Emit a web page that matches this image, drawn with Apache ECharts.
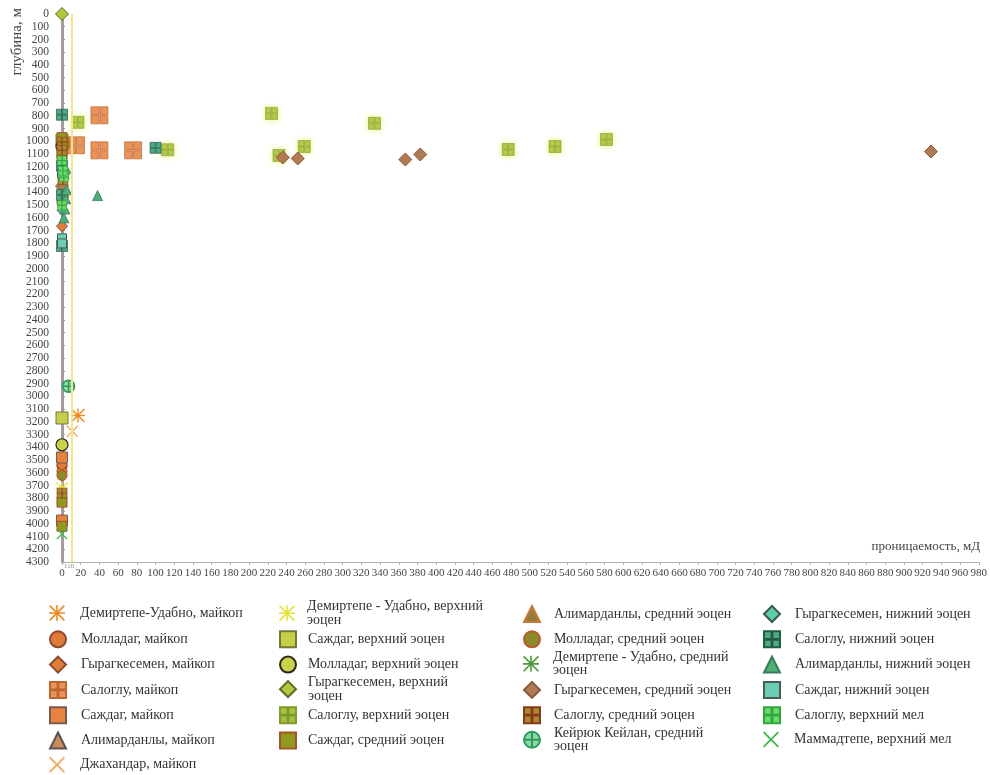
<!DOCTYPE html>
<html>
<head>
<meta charset="utf-8">
<script src="https://cdn.jsdelivr.net/npm/echarts@6/dist/echarts.min.js"></script>
<style>
  html, body { margin: 0; padding: 0; background: #fff; }
  #chart { width: 990px; height: 775px; }
</style>
</head>
<body>
<div id="chart"></div>
<script>
// Permeability (mD) vs depth (m) by field and stratigraphic unit
const xTickStep = 20;
const yTickStep = 100;
const xMax = 980;
const yMax = 4300;
const cutoffPermeability = 10;

// [permeability, depth]
const demirtepeMaikop = [[17, 3150]];
const molladagMaikop = [[0, 3510], [0, 3550], [0, 3590]];
const gyragkesemenMaikop = [[0, 1665], [0, 3540]];
const salogluMaikop = [[40, 795], [15, 1030], [40, 1070], [76, 1070]];
const sazhdagMaikop = [[0, 3480], [0, 3975]];
const alimardanlyMaikop = [[0, 3800]];
const dzhakhandarMaikop = [[11, 3275]];
const demirtepeUpperEocene = [[0, 3720]];
const sazhdagUpperEocene = [[0, 3170], [0, 990]];
const molladagUpperEocene = [[0, 3380], [0, 1040]];
const gyragkesemenUpperEocene = [[0, 0]];
const salogluUpperEocene = [[17, 850], [113, 1065], [224, 780], [232, 1110], [259, 1040], [334, 858], [477, 1063], [527, 1040], [582, 985]];
const sazhdagMiddleEocene = [[0, 4020], [0, 3830], [0, 1100], [2, 1015], [0, 970]];
const alimardanlyMiddleEocene = [[0, 1330], [2, 1400]];
const molladagMiddleEocene = [[0, 3620], [0, 1120], [0, 1480]];
const demirtepeMiddleEocene = [[0, 1180], [3, 1260]];
const gyragkesemenMiddleEocene = [[236, 1126], [252, 1134], [367, 1142], [383, 1102], [929, 1079], [0, 1350]];
const salogluMiddleEocene = [[0, 3760], [0, 1005], [1, 1300], [0, 1070]];
const keiriukMiddleEocene = [[7, 2920]];
const gyragkesemenLowerEocene = [[0, 1540]];
const salogluLowerEocene = [[0, 790], [100, 1050], [0, 1190], [0, 1420], [0, 1820]];
const alimardanlyLowerEocene = [[38, 1425], [4, 1210], [4, 1450], [3, 1530], [5, 1380], [2, 1600]];
const sazhdagLowerEocene = [[0, 1250], [0, 1760], [0, 1800]];
const salogluUpperCretaceous = [[0, 1150], [2, 1280], [0, 1500], [1, 1230]];
const mammadtepeUpperCretaceous = [[0, 4080]];

// Marker shapes
const SYM = {
  star: 'path://M9,0H11V20H9Z M0,1.5L1.5,0L20,18.5L18.5,20Z M18.5,0L20,1.5L1.5,20L0,18.5Z M0,9H20V11H0Z',
  cross: 'path://M0,1.6L1.6,0L20,18.4L18.4,20Z M18.4,0L20,1.6L1.6,20L0,18.4Z',
  quad: 'path://M0,0H9.5V9.5H0Z M10.5,0H20V9.5H10.5Z M0,10.5H9.5V20H0Z M10.5,10.5H20V20H10.5Z',
  ringPlus: 'path://M10,0A10,10,0,1,1,9.99,0Z M10,1V19 M1,10H19'
};

const SERIF = '"Liberation Serif", "DejaVu Serif", serif';

// name, data, symbol, size, fill, border, borderWidth, glow
const seriesDefs = [
  ['Демиртепе-Удабно, майкоп', demirtepeMaikop, SYM.star, 14, '#F08A24', null, 0],
  ['Молладаг, майкоп', molladagMaikop, 'circle', 10, '#E0783C', '#8A4A2A', 1],
  ['Гырагкесемен, майкоп', gyragkesemenMaikop, 'diamond', 11, '#E07B3C', '#8A4A2A', 1],
  ['Салоглу, майкоп', salogluMaikop, SYM.quad, 17, '#E8935A', '#C0652E', 0.7],
  ['Саждаг, майкоп', sazhdagMaikop, 'rect', 11, '#E8823E', '#7A5A4A', 1],
  ['Алимарданлы, майкоп', alimardanlyMaikop, 'triangle', 10, '#C98B5E', '#5E5250', 1],
  ['Джахандар, майкоп', dzhakhandarMaikop, SYM.cross, 12, '#F0A860', null, 0],
  ['Демиртепе - Удабно, верхний\nэоцен', demirtepeUpperEocene, SYM.star, 12, '#E4E43A', null, 0],
  ['Саждаг, верхний эоцен', sazhdagUpperEocene, 'rect', 12, '#C5D04A', '#6E7A3A', 1],
  ['Молладаг, верхний эоцен', molladagUpperEocene, 'circle', 12, '#C8D24A', '#2A2A1A', 1.2],
  ['Гырагкесемен, верхний\nэоцен', gyragkesemenUpperEocene, 'diamond', 13, '#B6C63A', '#5A6A2A', 1],
  ['Салоглу, верхний эоцен', salogluUpperEocene, SYM.quad, 12, '#A8C040', '#7E9A2A', 0.6, '#EEF27A'],
  ['Саждаг, средний эоцен', sazhdagMiddleEocene, 'rect', 10, '#8E9A1E', '#A8522A', 1],
  ['Алимарданлы, средний эоцен', alimardanlyMiddleEocene, 'triangle', 10, '#957B3A', '#C87A3A', 1],
  ['Молладаг, средний эоцен', molladagMiddleEocene, 'circle', 10, '#8C8A2A', '#B85A2A', 1.2],
  ['Демиртепе - Удабно, средний\nэоцен', demirtepeMiddleEocene, SYM.star, 10, '#4E9A3A', null, 0],
  ['Гырагкесемен, средний эоцен', gyragkesemenMiddleEocene, 'diamond', 13, '#B07A52', '#8A5A3A', 1],
  ['Салоглу, средний эоцен', salogluMiddleEocene, SYM.quad, 10, '#A88A2E', '#8A3A1A', 0.6],
  ['Кейрюк Кейлан, средний\nэоцен', keiriukMiddleEocene, SYM.ringPlus, 12, '#8ED8A8', '#2A9A5A', 1.5],
  ['Гырагкесемен, нижний эоцен', gyragkesemenLowerEocene, 'diamond', 10, '#5ECCAA', '#3A5A4A', 1],
  ['Салоглу, нижний эоцен', salogluLowerEocene, SYM.quad, 11, '#4FA88A', '#1E5E3A', 0.7],
  ['Алимарданлы, нижний эоцен', alimardanlyLowerEocene, 'triangle', 10, '#4FAE78', '#3A7A5A', 0.8],
  ['Саждаг, нижний эоцен', sazhdagLowerEocene, 'rect', 9, '#6CCCB4', '#4A5A56', 1],
  ['Салоглу, верхний мел', salogluUpperCretaceous, SYM.quad, 9, '#6ED86A', '#2EA83E', 0.6],
  ['Маммадтепе, верхний мел', mammadtepeUpperCretaceous, SYM.cross, 11, '#3EB84A', null, 0]
];

// Legend columns (indices into seriesDefs)
const legendColumns = [
  [0, 1, 2, 3, 4, 5, 6],
  [7, 8, 9, 10, 11, 12],
  [13, 14, 15, 16, 17, 18],
  [19, 20, 21, 22, 23, 24]
];
const legendIconLeft = [49, 279, 523, 763];
const legendTextLeft = [80, 307, 553, 794];
const legendRowTop = 613;
const legendRowStep = 25.3;
const legendIcon = 16;
const legendLine = 13.5;

const series = seriesDefs.map(function (d) {
  const style = { color: d[4], opacity: 1 };
  if (d[5]) { style.borderColor = d[5]; style.borderWidth = d[6]; }
  else { style.borderWidth = 0; }
  if (d[7]) { style.shadowColor = d[7]; style.shadowBlur = 6; }
  return {
    name: d[0],
    type: 'scatter',
    data: d[1],
    symbol: d[2],
    symbolSize: d[3],
    clip: false,
    itemStyle: style,
    z: 3
  };
});

// Yellow cutoff line
series.push({
  type: 'line',
  data: [],
  silent: true,
  markLine: {
    symbol: 'none',
    silent: true,
    label: { show: false },
    lineStyle: { color: '#F3E68A', width: 2, type: 'solid' },
    data: [{ xAxis: cutoffPermeability }]
  },
  z: 2
});

const legends = [];
legendColumns.forEach(function (col, c) {
  col.forEach(function (idx, r) {
    const name = seriesDefs[idx][0];
    const lines = name.split('\n').length;
    const h = Math.max(legendIcon, lines * legendLine);
    const center = legendRowTop + r * legendRowStep;
    legends.push({
      data: [name],
      orient: 'vertical',
      left: legendIconLeft[c],
      top: center - h / 2,
      padding: 0,
      itemWidth: legendIcon,
      itemHeight: legendIcon,
      selectedMode: false,
      textStyle: {
        fontFamily: SERIF,
        fontSize: 14,
        color: '#333',
        lineHeight: legendLine,
        padding: [0, 0, 0, legendTextLeft[c] - legendIconLeft[c] - legendIcon - 5]
      }
    });
  });
});

const chart = echarts.init(document.getElementById('chart'), null, { renderer: 'canvas' });
chart.setOption({
  backgroundColor: '#fff',
  animation: false,
  grid: { left: 62, right: 11, top: 14, bottom: 213, containLabel: false },
  xAxis: {
    type: 'value',
    min: 0,
    max: xMax,
    interval: xTickStep,
    position: 'bottom',
    axisLine: { onZero: false, lineStyle: { color: '#B4B4B4', width: 1 } },
    axisTick: { show: true, length: 3, lineStyle: { color: '#B4B4B4' } },
    axisLabel: { fontFamily: SERIF, fontSize: 11, color: '#444', margin: 6, formatter: function (v) { return String(v); } },
    splitLine: { show: false }
  },
  yAxis: {
    type: 'value',
    inverse: true,
    min: 0,
    max: yMax,
    interval: yTickStep,
    axisLine: { show: true, onZero: false, lineStyle: { color: '#A89BA0', width: 3 } },
    axisTick: { show: true, length: 3, inside: true, lineStyle: { color: '#9A9A9A' } },
    axisLabel: { fontFamily: SERIF, fontSize: 11.5, color: '#444', margin: 13, formatter: function (v) { return String(v); } },
    splitLine: { show: false }
  },
  legend: legends,
  graphic: [
    {
      type: 'text',
      left: 10,
      top: 8,
      rotation: Math.PI / 2,
      style: { text: 'глубина, м', font: '15px ' + SERIF, fill: '#444' }
    },
    {
      type: 'text',
      right: 10,
      top: 540,
      style: { text: 'проницаемость, мД', font: '13px ' + SERIF, fill: '#444' }
    },
    {
      type: 'text',
      left: 64,
      top: 563,
      style: { text: '110', font: '7px ' + SERIF, fill: '#888' }
    }
  ],
  series: series
});
</script>
</body>
</html>
